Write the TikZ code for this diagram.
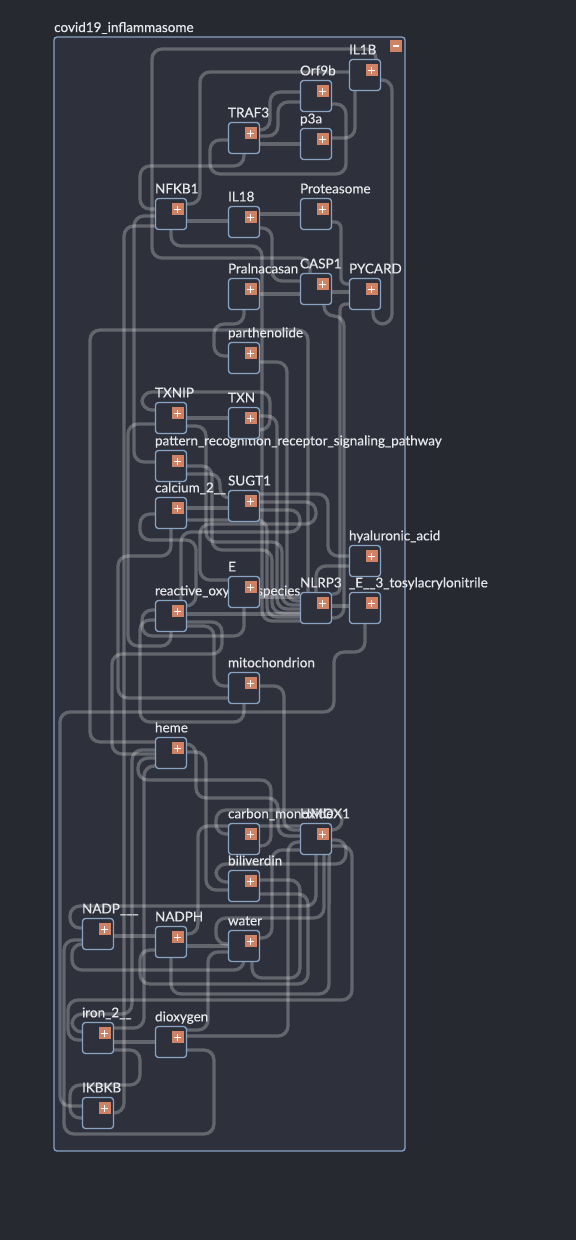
\documentclass[tikz,border=0pt]{standalone}
\usepackage{fontspec}
\setmainfont{Lato}
\newfontfamily\tagfont{Lato}[FakeBold=0.4]

\definecolor{pagebg}{HTML}{262930}
\definecolor{panel}{HTML}{2E313B}
\definecolor{rim}{HTML}{8AA4C4}
\definecolor{plusfill}{HTML}{CF8364}
\definecolor{ink}{HTML}{E6E8EC}

\pgfdeclarelayer{back}
\pgfdeclarelayer{wires}
\pgfdeclarelayer{labels}
\pgfsetlayers{back,wires,labels,main}

\tikzset{
  entity/.style={draw=rim, fill=panel, line width=1.3pt, rounded corners=3pt,
    minimum width=31pt, minimum height=31pt, inner sep=0},
  tag/.style={anchor=base west, inner sep=0, text=ink,
    font=\tagfont\fontsize{13.5}{15}\selectfont, yshift=4.5pt},
  plusbox/.style={fill=plusfill, minimum size=12pt, inner sep=0,
    path picture={\draw[white, line width=1.1pt]
      ([yshift=-2.5pt]path picture bounding box.north) -- ([yshift=2.5pt]path picture bounding box.south)
      ([xshift=2.5pt]path picture bounding box.west) -- ([xshift=-2.5pt]path picture bounding box.east);}},
  wire/.style={draw=white, draw opacity=0.26, line width=3.3pt, rounded corners=10pt},
}

\begin{document}
\begin{tikzpicture}[x=1pt, y=-1pt]

  % page and compound frame
  \begin{pgfonlayer}{back}
    \fill[pagebg] (0,0) rectangle (576,1240);
    \draw[rim, fill=panel, line width=1.3pt, rounded corners=3pt] (54,37) rectangle (405,1151);
    \node[tag, yshift=-4.5pt] (title) at (54,32) {covid19\_inflammasome};
  \end{pgfonlayer}
  \node[fill=plusfill, minimum size=12pt, inner sep=0] (collapse) at (396,46) {};
  \draw[white, line width=1.1pt] ([xshift=3pt]collapse.west) -- ([xshift=-3pt]collapse.east);

  % entities: name / left / top / label
  \foreach \name/\x/\y/\txt in {
      IL1B/349/59/IL1B, Orf9b/300/80/Orf9b, TRAF3/228/122/TRAF3, p3a/300/128/p3a,
      NFKB1/155/198/NFKB1, IL18/228/206/IL18, Proteasome/300/198/Proteasome,
      Pralnacasan/228/278/Pralnacasan, CASP1/300/273/CASP1, PYCARD/349/278/PYCARD,
      parthenolide/228/342/parthenolide, TXNIP/155/402/TXNIP, TXN/228/407/TXN,
      PRR/155/450/pattern\_recognition\_receptor\_signaling\_pathway,
      calcium/155/497/calcium\_2\_\_, SUGT1/228/490/SUGT1,
      hyaluronic/349/545/hyaluronic\_acid, E/228/576/E,
      ROS/155/600/reactive\_oxygen\_species, NLRP3/300/592/NLRP3,
      Etosyl/349/592/\_E\_\_3\_tosylacrylonitrile, mito/228/672/mitochondrion,
      heme/155/737/heme, CO/228/823/carbon\_monoxide, HMOX1/300/823/HMOX1,
      bili/228/870/biliverdin, NADP/82/918/NADP\_\_\_, NADPH/155/926/NADPH,
      water/228/930/water, iron/82/1022/iron\_2\_\_, dioxygen/155/1026/dioxygen,
      IKBKB/82/1097/IKBKB}
  {
    \node[entity] (\name) at (\x+16,\y+16) {};
    \begin{pgfonlayer}{labels}
      \node[tag] (\name-tag) at (\name.north west) {\txt};
    \end{pgfonlayer}
    \node[plusbox] (\name-plus) at ([xshift=-9.5pt,yshift=-11.5pt]\name.north east) {}; % expand button
  }

  \begin{pgfonlayer}{wires}
    % upper block
    \draw[wire] (TRAF3.east |- 0,130) -- (270,130) -- (270,92) -- (Orf9b.west |- 0,92);
    \draw[wire] (TRAF3.east |- 0,136) -- (278,136) -- (278,102) -- (Orf9b.west |- 0,102);
    \draw[wire] (TRAF3.east |- 0,144) -- (p3a.west |- 0,144);
    \draw[wire] (NFKB1.east |- 0,204) -- (200,204) -- (200,72) -- (IL1B.west |- 0,72);
    \draw[wire] (p3a.east |- 0,138) -- (355,138) -- ([xshift=-10pt]IL1B.south);
    \draw[wire] ([xshift=-6pt]CASP1.north) -- (310,258) -- (152,258) -- (152,49) -- (376,49) -- ([xshift=-5pt]IL1B.north east);
    \draw[wire] (IL1B.east |- 0,80) -- (392,80) -- (392,324) -- (373,324) -- ([xshift=8pt]PYCARD.south);
    \draw[wire] (NFKB1.east |- 0,221) -- (IL18.west |- 0,221);
    \draw[wire] (IL18.east |- 0,214) -- (Proteasome.west |- 0,214);
    \draw[wire] (IL18.east |- 0,228) -- (272,228) -- (272,281) -- (CASP1.west |- 0,281);
    \draw[wire] (Pralnacasan.east |- 0,294) -- (CASP1.west |- 0,294);
    \draw[wire] (CASP1.east |- 0,292) -- (PYCARD.west |- 0,292);
    \draw[wire, rounded corners=6pt] (Proteasome.east |- 0,222) -- (341,222) -- (341,284) -- (PYCARD.west |- 0,284);
    \draw[wire] (TRAF3.south) -- (244,166) -- (140,166) -- (140,209) -- (NFKB1.west |- 0,209);
    \draw[wire] (Orf9b.east |- 0,104) -- (346,104) -- (346,174) -- (210,174) -- (210,140) -- (TRAF3.west |- 0,140);
    \draw[wire] (NFKB1.south) -- (171,246) -- (262,246) -- (262,621) -- (NLRP3.west |- 0,621);
    \draw[wire] (Pralnacasan.south) -- (244,324) -- (214,324) -- (214,356) -- (parthenolide.west |- 0,356);

    % inflammasome block
    \draw[wire] (parthenolide.east |- 0,362) -- (287,362) -- (287,601) -- (NLRP3.west |- 0,601);
    \draw[wire] (heme.west |- 0,742) -- (90,742) -- (90,330) -- (308,330) -- ([xshift=-8pt]NLRP3.north);
    \draw[wire] (TXN.east |- 0,430) -- (270,430) -- (270,392) -- (142,392) -- (142,410) -- (TXNIP.west |- 0,410);
    \draw[wire] (TXNIP.east |- 0,418) -- (TXN.west |- 0,418);
    \draw[wire] (TXNIP.east |- 0,426) -- (206,426) -- (206,542) -- (282,542) -- (282,605) -- (NLRP3.west |- 0,605);
    \draw[wire] (TXN.east |- 0,416) -- (277,416) -- (277,609) -- (NLRP3.west |- 0,609);
    \draw[wire] (PRR.east |- 0,466) -- (212,466) -- (212,550) -- (272,550) -- (272,613) -- (NLRP3.west |- 0,613);
    \draw[wire] (PRR.east |- 0,474) -- (220,474) -- (220,498) -- (SUGT1.west |- 0,498);
    \draw[wire] (PRR.west |- 0,462) -- (134,462) -- (134,216) -- (NFKB1.west |- 0,216);
    \draw[wire] (calcium.east |- 0,508) -- (SUGT1.west |- 0,508);
    \draw[wire] (calcium.east |- 0,520) -- (267,520) -- (267,617) -- (NLRP3.west |- 0,617);
    \draw[wire] (calcium.south) -- (171,556) -- (118,556) -- (118,698) -- (mito.west |- 0,698);
    \draw[wire] (SUGT1.east |- 0,494) -- (328,494) -- (328,556) -- (hyaluronic.west |- 0,556);
    \draw[wire] (SUGT1.east |- 0,502) -- (316,502) -- (316,524) -- (200,524) -- (200,580) -- (E.west |- 0,580);
    \draw[wire] (SUGT1.east |- 0,510) -- (300,510) -- (300,532) -- (181,532) -- ([xshift=10pt]ROS.north);
    \draw[wire] (E.east |- 0,597) -- (NLRP3.west |- 0,597);
    \draw[wire] (E.south) -- (244,636) -- (142,636) -- (142,610) -- (ROS.west |- 0,610);
    \draw[wire] (ROS.east |- 0,614) -- (NLRP3.west |- 0,614);
    \draw[wire] (ROS.east |- 0,606) -- (196,606) -- (196,540) -- (140,540) -- (140,514) -- (calcium.west |- 0,514);
    \draw[wire] (ROS.east |- 0,622) -- (222,622) -- (222,654) -- (112,654) -- (112,754) -- (heme.west |- 0,754);
    \draw[wire] (hyaluronic.west |- 0,566) -- (316,566) -- (NLRP3.north);
    \draw[wire] (Etosyl.west |- 0,606) -- (NLRP3.east |- 0,606);
    \draw[wire, rounded corners=6pt] (NLRP3.east |- 0,594) -- (340,594) -- (340,304) -- (PYCARD.west |- 0,304);
    \draw[wire] (NLRP3.east |- 0,618) -- (344,618) -- (344,316) -- (324,316) -- ([xshift=8pt]CASP1.south);
    \draw[wire] (Etosyl.south) -- (365,652) -- (334,652) -- (334,712) -- (60,712) -- (60,1106) -- (IKBKB.west |- 0,1106);
    \draw[wire] (IKBKB.east |- 0,1113) -- (124,1113) -- (124,226) -- (NFKB1.west |- 0,226);
    \draw[wire] (ROS.south) -- (171,646) -- (128,646) -- (128,424) -- (TXNIP.west |- 0,424);
    \draw[wire] (ROS.east |- 0,626) -- (214,626) -- (214,686) -- (mito.west |- 0,686);
    \draw[wire] (mito.south) -- (244,722) -- (140,722) -- (140,620) -- (ROS.west |- 0,620);
    \draw[wire] (mito.east |- 0,686) -- (284,686) -- (284,830) -- (HMOX1.west |- 0,830);

    % heme block
    \draw[wire] (heme.east |- 0,744) -- (196,744) -- (196,798) -- (278,798) -- (278,836) -- (HMOX1.west |- 0,836);
    \draw[wire] (heme.east |- 0,752) -- (206,752) -- (206,890) -- (bili.west |- 0,890);
    \draw[wire] (heme.west |- 0,750) -- (132,750) -- (132,1014) -- (72,1014) -- (72,1032) -- (iron.west |- 0,1032);
    \draw[wire] (HMOX1.east |- 0,830) -- (342,830) -- (342,810) -- (216,810) -- (216,834) -- (CO.west |- 0,834);
    \draw[wire] (HMOX1.east |- 0,840) -- (346,840) -- (346,864) -- (216,864) -- (216,882) -- (bili.west |- 0,882);
    \draw[wire] (HMOX1.east |- 0,846) -- (352,846) -- (352,1000) -- (68,1000) -- (68,1040) -- (iron.west |- 0,1040);
    \draw[wire] (HMOX1.south) -- (316,906) -- (70,906) -- (70,928) -- (NADP.west |- 0,928);
    \draw[wire] ([xshift=8pt]HMOX1.south) -- (324,918) -- (216,918) -- (216,944) -- (water.west |- 0,944);
    \draw[wire] (NADPH.east |- 0,934) -- (198,934) -- (198,826) -- (HMOX1.west |- 0,826);
    \draw[wire] (NADPH.south) -- (171,994) -- (329,994) -- ([xshift=-3pt]HMOX1.south east);
    \draw[wire] (dioxygen.east |- 0,1036) -- (288,1036) -- (288,842) -- (HMOX1.west |- 0,842);
    \draw[wire] (dioxygen.east |- 0,1030) -- (208,1030) -- (208,952) -- (water.west |- 0,952);
    \draw[wire] (NADP.east |- 0,936) -- (NADPH.west |- 0,936);
    \draw[wire] (NADPH.east |- 0,946) -- (water.west |- 0,946);
    \draw[wire] (iron.east |- 0,1042) -- (dioxygen.west |- 0,1042);
    \draw[wire] (iron.east |- 0,1028) -- (144,1028) -- (144,766) -- (heme.west |- 0,766);
    \draw[wire] (dioxygen.east |- 0,1050) -- (214,1050) -- (214,1134) -- (64,1134) -- (64,940) -- (NADP.west |- 0,940);
    \draw[wire] (water.east |- 0,938) -- (272,938) -- (272,850) -- (HMOX1.west |- 0,850);
    \draw[wire] (water.south) -- (244,970) -- (72,970) -- (72,944) -- (NADP.west |- 0,944);
    \draw[wire] (bili.east |- 0,894) -- (308,894) -- (308,984) -- (140,984) -- (140,950) -- (NADPH.west |- 0,950);
    \draw[wire] (bili.east |- 0,880) -- (300,880) -- (300,978) -- (252,978) -- ([xshift=8pt]water.south);
    \draw[wire] (CO.east |- 0,846) -- (271,846) -- (271,780) -- (138,780) -- (138,758) -- (heme.west |- 0,758);
    \draw[wire] (iron.east |- 0,1050) -- (140,1050) -- (140,1085) -- (70,1085) -- (70,1118) -- (IKBKB.west |- 0,1118);
  \end{pgfonlayer}

\end{tikzpicture}
\end{document}
